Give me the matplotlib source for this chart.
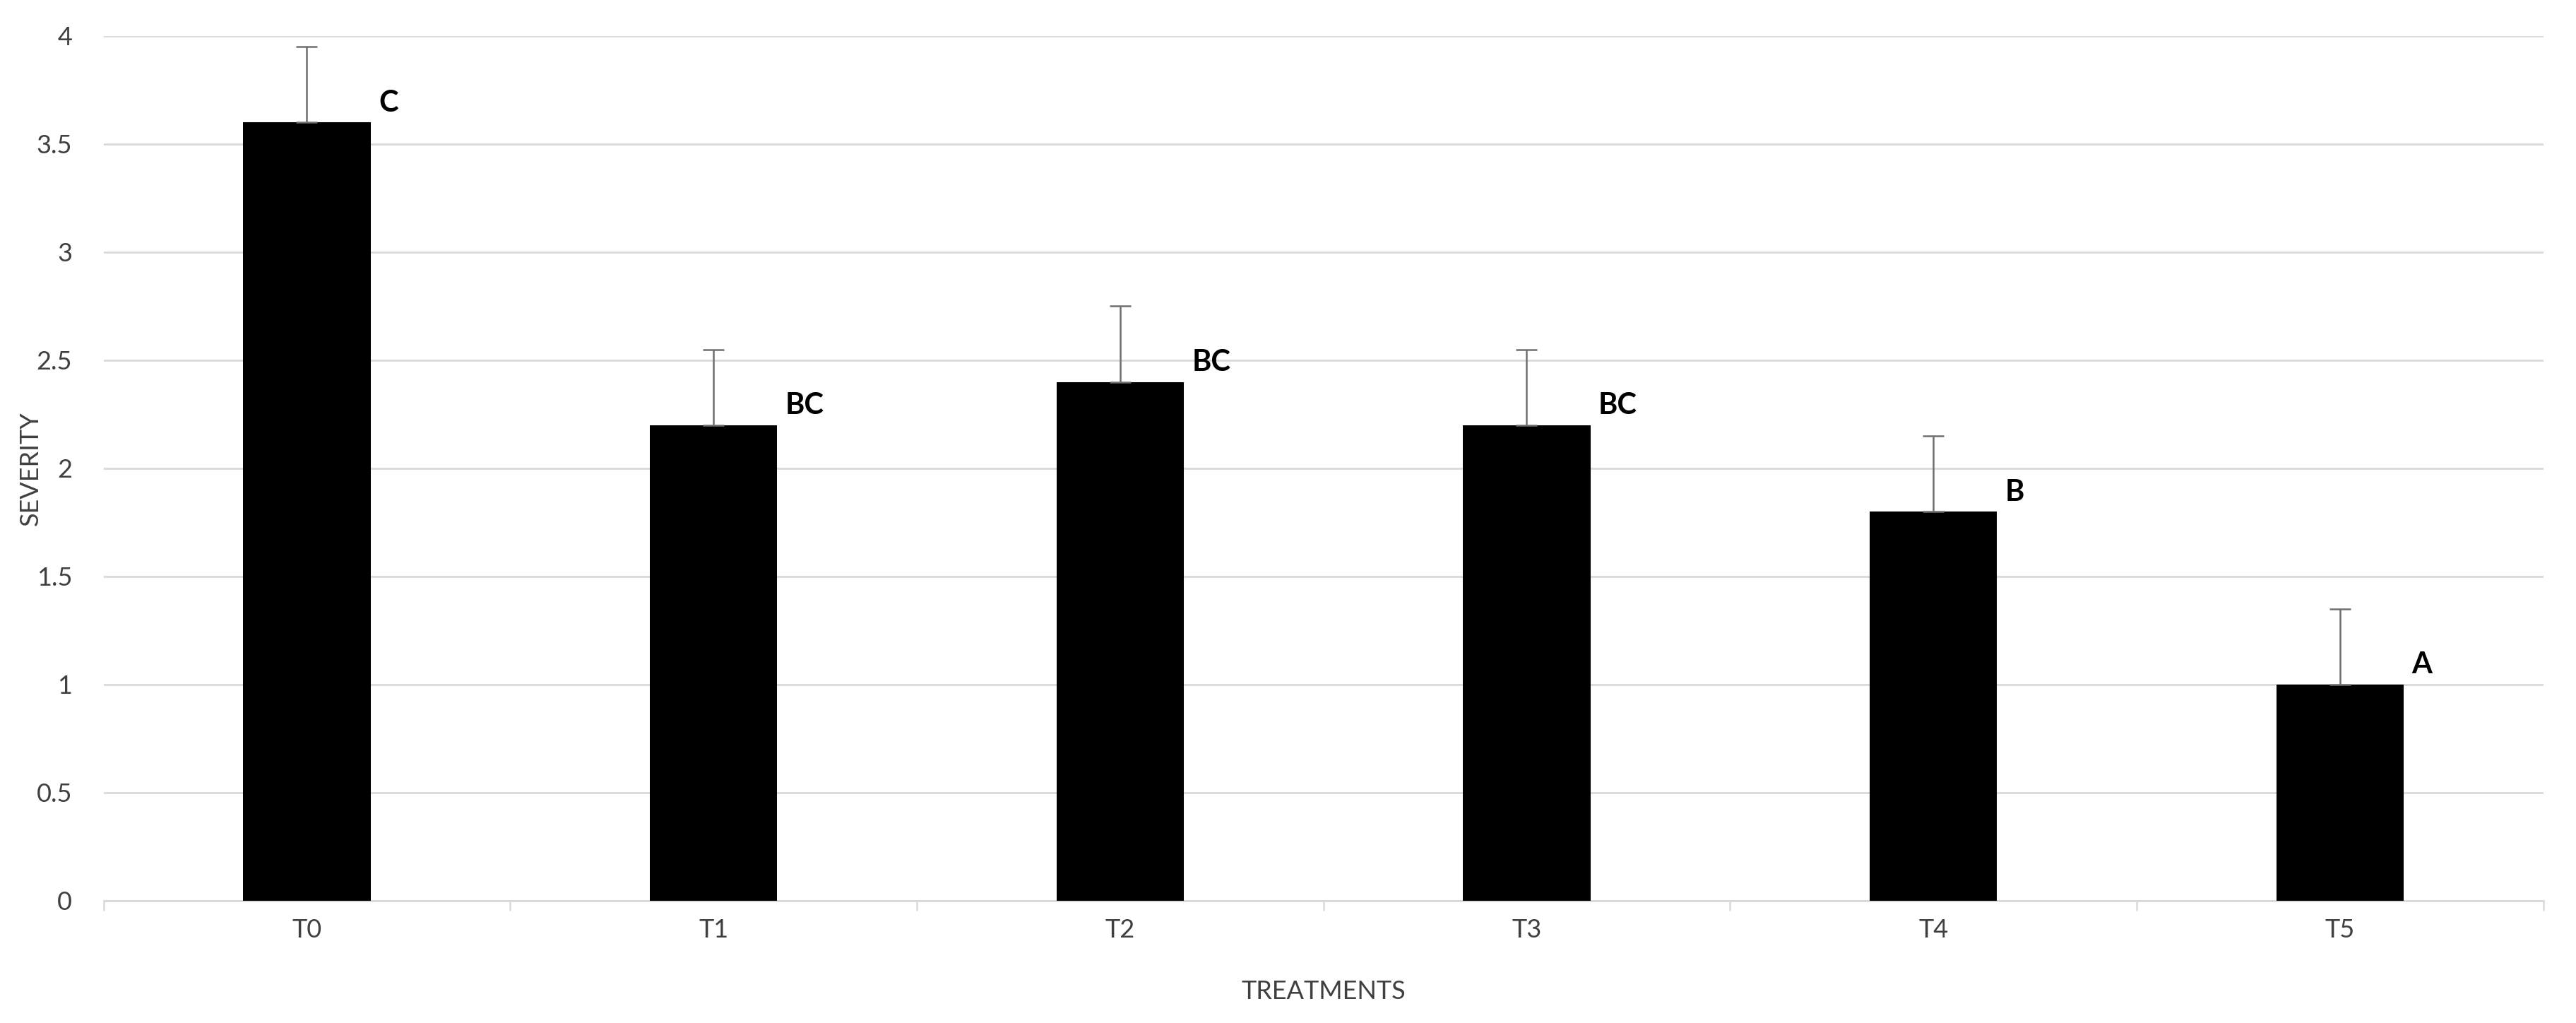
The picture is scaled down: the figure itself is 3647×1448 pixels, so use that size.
import matplotlib
matplotlib.use("Agg")
import matplotlib.pyplot as plt
import numpy as np
from matplotlib.ticker import FuncFormatter

treatments = ["T0", "T1", "T2", "T3", "T4", "T5"]
severity = [3.6, 2.2, 2.4, 2.2, 1.8, 1.0]
std_err = [0.35, 0.35, 0.35, 0.35, 0.35, 0.35]
letters = ["C", "BC", "BC", "BC", "B", "A"]

plt.rcParams['font.family'] = ['Lato', 'DejaVu Sans']

fig = plt.figure(figsize=(18.24, 7.24), dpi=200)
ax = fig.add_axes([0.0402, 0.1195, 0.9468, 0.8453])

x = np.arange(len(treatments))
bar_w = 0.313
ax.bar(x, severity, width=bar_w, color='black', zorder=3)
ax.errorbar(x, severity, yerr=[np.zeros(len(x)), std_err], fmt='none',
            ecolor='#6f6f6f', elinewidth=0.9, capsize=5.5, capthick=0.9, zorder=4)

for xi, v, lab in zip(x, severity, letters):
    ax.text(xi + bar_w / 2 + 0.02, v + 0.09, lab, fontsize=15, fontweight='bold',
            ha='left', va='center', color='black', zorder=5)

ax.set_xlim(-0.5, len(x) - 0.5)
ax.set_ylim(0, 4)
ax.set_yticks(np.arange(0, 4.01, 0.5))
ax.yaxis.set_major_formatter(FuncFormatter(lambda v, p: f"{v:g}"))
ax.yaxis.grid(True, color='#d9d9d9', linewidth=1.0, zorder=0)
ax.set_axisbelow(True)

ax.set_xticks(x)
ax.set_xticklabels(treatments)
ax.set_xticks(np.arange(-0.5, len(x), 1.0), minor=True)
ax.tick_params(axis='x', which='major', length=0, pad=9, labelsize=13, labelcolor='#404040')
ax.tick_params(axis='x', which='minor', length=5, width=0.9, color='#d9d9d9')
ax.tick_params(axis='y', length=0, pad=16, labelsize=13, labelcolor='#404040')

for s in ['left', 'right', 'top']:
    ax.spines[s].set_visible(False)
ax.spines['bottom'].set_color('#d9d9d9')
ax.spines['bottom'].set_linewidth(1.0)

ax.set_xlabel("TREATMENTS", fontsize=13, color='#404040', va='center')
ax.set_ylabel("SEVERITY", fontsize=13, color='#404040', va='center')
ax.xaxis.set_label_coords(0.5, -0.105)
ax.yaxis.set_label_coords(-0.030, 0.5)

fig.savefig("out.png", dpi=200, facecolor='white')
